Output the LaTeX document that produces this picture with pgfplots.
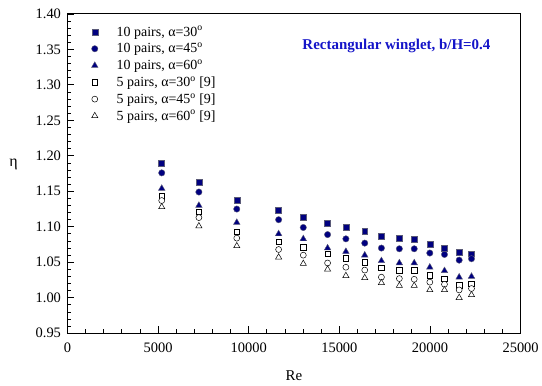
\documentclass[border=0pt]{standalone}
\usepackage{fontspec}
\setmainfont{Liberation Serif}
\usepackage{pgfplots}
\pgfplotsset{compat=1.18}
\definecolor{navyfill}{RGB}{0,0,128}
\definecolor{titleblue}{RGB}{20,20,200}
\definecolor{mkedge}{RGB}{90,90,120}
\begin{document}
\begin{tikzpicture}
\begin{axis}[
  scale only axis,
  width=454.6pt, height=320.3pt,
  xmin=0, xmax=25000, ymin=0.95, ymax=1.40,
  xtick={0,5000,10000,15000,20000,25000},
  ytick={0.95,1.00,1.05,1.10,1.15,1.20,1.25,1.30,1.35,1.40},
  minor x tick num=4, minor y tick num=4,
  xtick pos=bottom, ytick pos=left,
  tick align=inside,
  major tick length=7pt, minor tick length=4pt,
  every tick/.style={black, line width=0.8pt},
  axis line style={line width=1pt},
  scaled x ticks=false,
  /pgf/number format/assume math mode=true,
  xticklabel style={/pgf/number format/1000 sep={}, font=\fontsize{14.5}{16}\selectfont, yshift=-6pt},
  yticklabel style={/pgf/number format/fixed, /pgf/number format/fixed zerofill, /pgf/number format/precision=2, font=\fontsize{14.5}{16}\selectfont, xshift=-3pt},
  xlabel={Re},
  ylabel={η},
  xlabel style={font=\fontsize{15}{17}\selectfont, at={(axis description cs:0.5,-0.132)}, anchor=center},
  ylabel style={font=\fontsize{16}{18}\selectfont, rotate=-90, at={(axis description cs:-0.119,0.53)}, anchor=center},
  legend style={draw=none, fill=none, at={(axis description cs:0.051,0.965)}, anchor=north west,
    font=\fontsize{14}{16}\selectfont, row sep=3.5pt, inner sep=0pt,
    nodes={inner sep=1pt}},
  legend cell align=left,
  legend image code/.code={\path[draw=none,fill=none] (-4pt,0pt) -- (21pt,0pt); \draw[only marks] plot coordinates {(0pt,0pt)};},
]
\addplot[only marks, mark=square*, mark size=3pt, mark options={fill=navyfill, draw=mkedge, line width=0.5pt}] coordinates {
(5200,1.190)(7250,1.163)(9340,1.137)(11650,1.123)(13010,1.113)(14350,1.105)(15360,1.099)(16400,1.094)(17320,1.087)(18310,1.084)(19130,1.082)(19990,1.075)(20800,1.070)(21610,1.064)(22290,1.062)};
\addlegendentry{10 pairs, α=30\textsuperscript{o}}
\addplot[only marks, mark=*, mark size=3.2pt, mark options={fill=navyfill, draw=mkedge, line width=0.4pt}] coordinates {
(5200,1.176)(7250,1.149)(9340,1.125)(11650,1.110)(13010,1.099)(14350,1.089)(15360,1.083)(16400,1.077)(17320,1.070)(18310,1.069)(19130,1.069)(19990,1.063)(20800,1.061)(21610,1.053)(22290,1.055)};
\addlegendentry{10 pairs, α=45\textsuperscript{o}}
\addplot[only marks, mark=triangle*, mark size=3.8pt, mark options={fill=navyfill, draw=mkedge, line width=0.4pt}] coordinates {
(5200,1.154)(7250,1.130)(9340,1.106)(11650,1.090)(13010,1.083)(14350,1.070)(15360,1.065)(16400,1.060)(17320,1.052)(18310,1.049)(19130,1.049)(19990,1.043)(20800,1.038)(21610,1.029)(22290,1.030)};
\addlegendentry{10 pairs, α=60\textsuperscript{o}}
\addplot[only marks, mark=square*, mark size=2.8pt, mark options={fill=white, draw=black, line width=0.5pt}] coordinates {
(5200,1.143)(7250,1.121)(9340,1.093)(11650,1.079)(13010,1.071)(14350,1.062)(15360,1.056)(16400,1.050)(17320,1.042)(18310,1.039)(19130,1.039)(19990,1.032)(20800,1.027)(21610,1.018)(22290,1.020)};
\addlegendentry{5 pairs, α=30\textsuperscript{o} [9]}
\addplot[only marks, mark=*, mark size=3pt, mark options={fill=white, draw=black, line width=0.5pt}] coordinates {
(5200,1.137)(7250,1.113)(9340,1.084)(11650,1.068)(13010,1.060)(14350,1.049)(15360,1.043)(16400,1.039)(17320,1.029)(18310,1.027)(19130,1.026)(19990,1.022)(20800,1.019)(21610,1.011)(22290,1.013)};
\addlegendentry{5 pairs, α=45\textsuperscript{o} [9]}
\addplot[only marks, mark=triangle*, mark size=3.6pt, mark options={fill=white, draw=black, line width=0.5pt}] coordinates {
(5200,1.128)(7250,1.101)(9340,1.073)(11650,1.057)(13010,1.048)(14350,1.040)(15360,1.031)(16400,1.028)(17320,1.021)(18310,1.017)(19130,1.017)(19990,1.011)(20800,1.011)(21610,1.000)(22290,1.004)};
\addlegendentry{5 pairs, α=60\textsuperscript{o} [9]}
\node[font=\fontsize{15}{17}\selectfont\bfseries, text=titleblue] at (axis description cs:0.726,0.900) {Rectangular winglet, b/H=0.4};
\coordinate (O) at (axis description cs:0,0);
\end{axis}
\path (O) ++(-67.7pt,-52.7pt) rectangle ++(542pt,387pt);
\end{tikzpicture}
\end{document}
